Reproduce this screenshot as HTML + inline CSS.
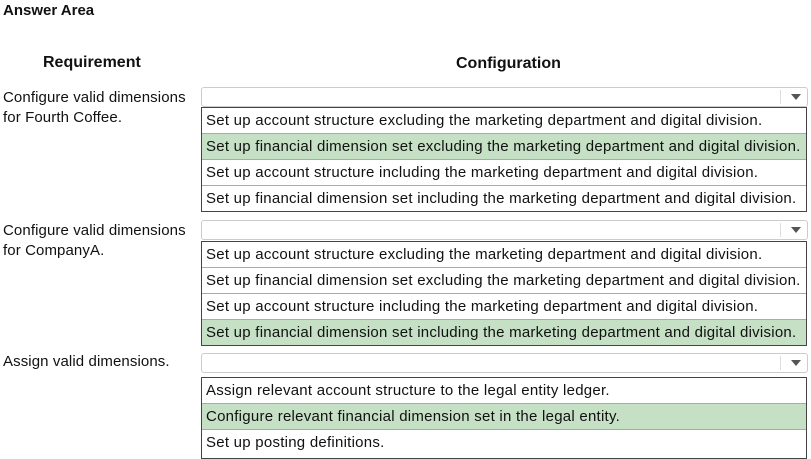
<!DOCTYPE html>
<html><head><style>
body{margin:0;width:811px;height:454px;background:#fff;position:relative;overflow:hidden;font-family:"Liberation Sans",sans-serif;color:#111}
.a{position:absolute;white-space:nowrap}
.dd{position:absolute;left:201px;width:605px;height:18px;border:1px solid #ccc;border-radius:3px;background:#fff}
.dd:after{content:"";position:absolute;right:6px;top:6px;border-left:5px solid transparent;border-right:5px solid transparent;border-top:6px solid #555}
.dd:before{content:"";position:absolute;right:26px;top:2px;height:14px;border-left:1px solid #ddd}
.lb{position:absolute;left:201px;width:604px;border:1px solid #444}
.r{height:25px;line-height:25px;padding-left:4px;font-size:15px;letter-spacing:0.25px;border-top:1px solid #aaa;white-space:nowrap}
.r:first-child{border-top:none}
.g{background:#c5e0c5}
.t{font-size:15px;letter-spacing:0.1px}
</style></head><body>
<div class="a" style="left:3px;top:2px;font-size:15px;font-weight:bold">Answer Area</div>
<div class="a" style="left:43px;top:54px;font-size:16px;font-weight:bold">Requirement</div>
<div class="a" style="left:456px;top:55px;font-size:16px;font-weight:bold">Configuration</div>

<div class="a t" style="left:3px;top:88px;line-height:20px">Configure valid dimensions<br>for Fourth Coffee.</div>
<div class="dd" style="top:87px"></div>
<div class="lb" style="top:107px">
<div class="r">Set up account structure excluding the marketing department and digital division.</div>
<div class="r g">Set up financial dimension set excluding the marketing department and digital division.</div>
<div class="r">Set up account structure including the marketing department and digital division.</div>
<div class="r">Set up financial dimension set including the marketing department and digital division.</div>
</div>

<div class="a t" style="left:3px;top:221px;line-height:20px">Configure valid dimensions<br>for CompanyA.</div>
<div class="dd" style="top:220px"></div>
<div class="lb" style="top:241px">
<div class="r">Set up account structure excluding the marketing department and digital division.</div>
<div class="r">Set up financial dimension set excluding the marketing department and digital division.</div>
<div class="r">Set up account structure including the marketing department and digital division.</div>
<div class="r g">Set up financial dimension set including the marketing department and digital division.</div>
</div>

<div class="a t" style="left:3px;top:353px">Assign valid dimensions.</div>
<div class="dd" style="top:353px"></div>
<div class="lb" style="top:377px;height:80px">
<div class="r">Assign relevant account structure to the legal entity ledger.</div>
<div class="r g">Configure relevant financial dimension set in the legal entity.</div>
<div class="r">Set up posting definitions.</div>
</div>
</body></html>
